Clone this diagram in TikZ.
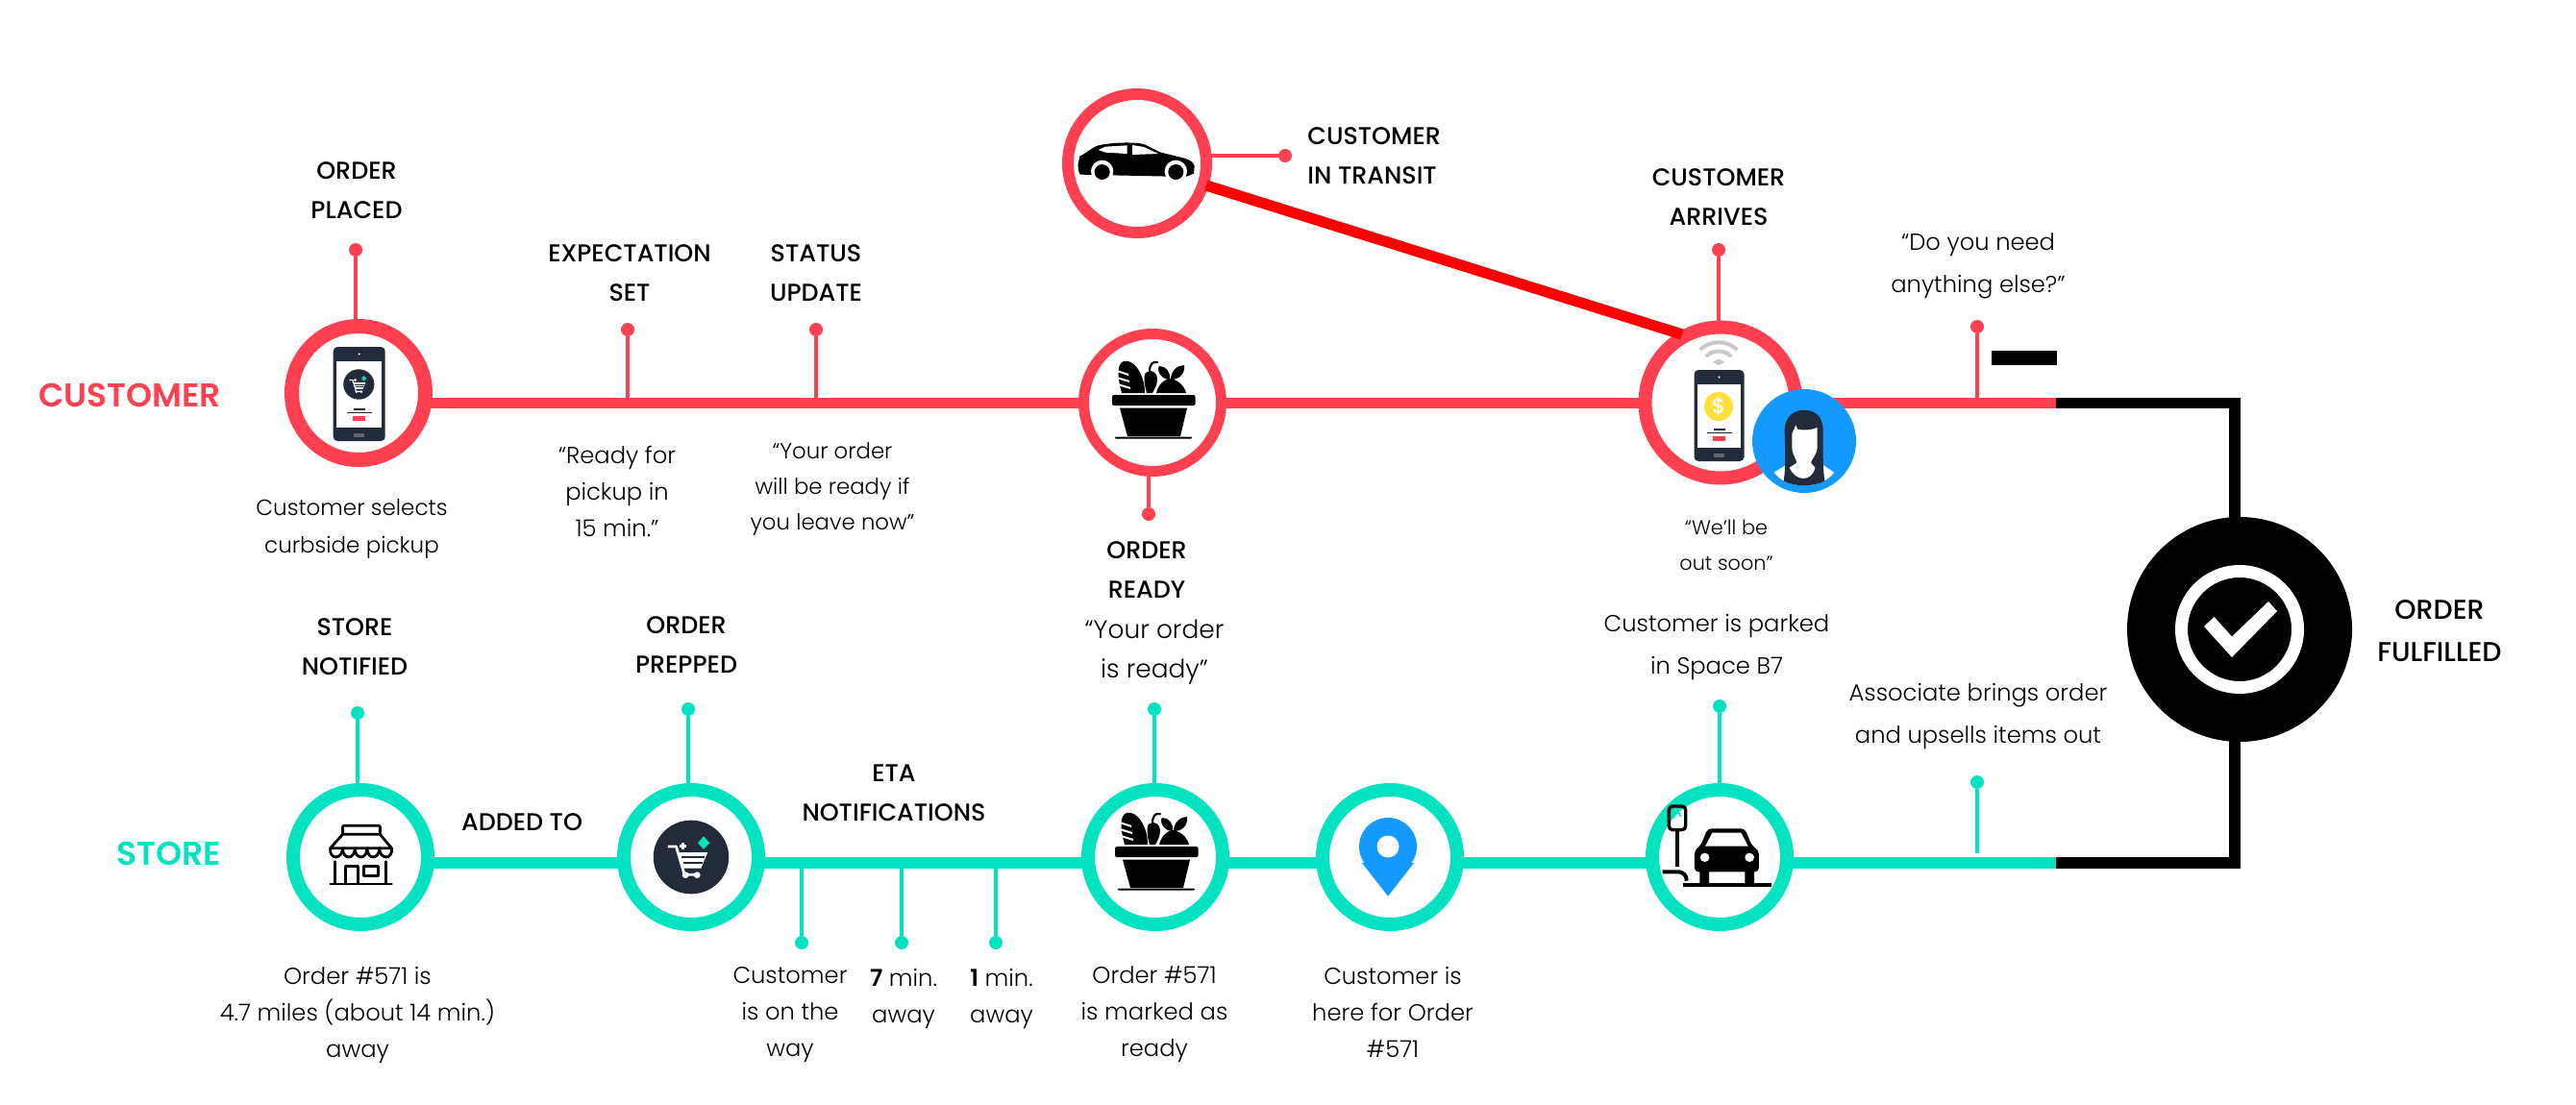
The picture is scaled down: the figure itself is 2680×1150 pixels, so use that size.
\documentclass[tikz,border=0pt]{standalone}
\usepackage{fontspec}
\setmainfont{Poppins}
\newfontfamily\bodyf{Poppins Light}
\newfontfamily\capsf{Poppins Medium}
\newfontfamily\boldf{Poppins SemiBold}
\usetikzlibrary{backgrounds}
\definecolor{cred}{HTML}{FF4050}
\definecolor{cteal}{HTML}{03E3C2}
\definecolor{cdark}{HTML}{232B3A}
\definecolor{cblue}{HTML}{1499FF}
\definecolor{cyel}{HTML}{FFE03A}
\definecolor{cgray}{HTML}{C8C8C8}
\tikzset{
 ringnode/.style n args={3}{circle,draw=#1,fill=white,line width=#3,minimum size=#2,inner sep=0pt},
 bodytext/.style={align=center,inner sep=0pt,font=\bodyf\fontsize{12.1}{19}\selectfont,text=black},
 widetext/.style={align=center,inner sep=0pt,font=\bodyf\fontsize{12.1}{22}\selectfont,text=black},
 capstext/.style={align=center,inner sep=0pt,font=\capsf\fontsize{12.7}{20.5}\selectfont,text=black},
 sidetext/.style={inner sep=0pt,font=\boldf\fontsize{17.2}{20}\selectfont},
 dotnode/.style={circle,fill=#1,minimum size=7pt,inner sep=0pt},
 pinline/.style={draw=#1,line width=2pt},
 mainline/.style={draw=#1,line width=5.6pt},
 zoomA/.style={x=0.16667pt,y=-0.16667pt},
 zoomB/.style={x=0.17218pt,y=-0.16667pt},
 zoomC/.style={x=0.24237pt,y=-0.16667pt}
}
\newcommand{\phonebody}[4]{% x y w h
 \fill[cdark,rounded corners=2.2pt] (#1-#3/2,#2-#4/2) rectangle (#1+#3/2,#2+#4/2);
 \fill[white] (#1-#3/2+3.5,#2-#4/2+15) rectangle (#1+#3/2-3.5,#2+#4/2-14.5);
 \fill[white] (#1,#2-#4/2+7.5) circle [radius=1.2];
 \fill[gray!70!cdark] (#1-5.5,#2+#4/2-8.5) rectangle (#1+5.5,#2+#4/2-4.5);
 \fill[cdark] (#1-6,#2+#4/2-34) rectangle (#1+6,#2+#4/2-32.5);
 \fill[cdark] (#1-13,#2+#4/2-30.5) rectangle (#1+13,#2+#4/2-29);
 \fill[cred] (#1-6.5,#2+#4/2-26) rectangle (#1+6.5,#2+#4/2-21);
}
\newcommand{\basketicon}[2]{%
 \begin{scope}[shift={(#1,#2)},x=0.5pt,y=-0.5pt]
 \fill[black,rounded corners=1pt] (-42,-8) rectangle (44.5,3);
 \fill[black] (-34,5.7) -- (36,5.7) -- (29,35) -- (-26,35) -- cycle;
 \fill[black,rounded corners=0.4pt] (-39,35.5) rectangle (41,37.5);
 \fill[black] (-32,-10) .. controls (-36,-25) and (-38,-40) .. (-30,-43) .. controls (-20,-46) and (-8,-30) .. (-8,-10) -- cycle;
 \draw[white,line width=1pt] (-37,-33) -- (-25,-29) (-37,-26) -- (-24,-22) (-36,-19) -- (-23,-15) ;
 \fill[black] (-6,-10) .. controls (-9,-20) and (-10,-32) .. (-5,-32) .. controls (0,-35) and (5,-30) .. (5,-25) .. controls (5,-18) and (2,-14) .. (0,-10) -- cycle;
 \draw[black,line width=1.1pt,line cap=round] (-3,-32) .. controls (-3,-40) and (0,-43) .. (5,-42);
 \fill[black] (4,-10) .. controls (6,-18) and (11,-24) .. (18,-25) .. controls (26,-24) and (33,-18) .. (35,-10) -- cycle;
 \fill[black] (18,-24) .. controls (8,-24) and (4,-35) .. (7,-38) .. controls (14,-38) and (19,-32) .. (18,-24) -- cycle;
 \fill[black] (19,-24) .. controls (19,-33) and (26,-39) .. (33,-39) .. controls (34,-31) and (29,-24) .. (19,-24) -- cycle;
 \end{scope}}
\newcommand{\carticon}[3]{%
 \begin{scope}[shift={(#1,#2)},x=#3*0.17218pt,y=-#3*0.16667pt]
 \fill[cdark] (0,0) circle [x radius=114,y radius=115];
 \draw[white,line width=#3*1.4pt,line join=round] (-70,-33) -- (-45,-33) -- (-20,55) -- (25,55);
 \fill[white] (-38,-15) -- (50,-15) -- (30,35) -- (-23,35) -- cycle;
 \draw[cdark,line width=#3*1pt] (-28,0) -- (40,0) (-24,18) -- (34,18);
 \fill[white] (-17,56) circle [radius=10] (18,56) circle [radius=10];
 \fill[white] (-25,-33) -- (-21,-38) -- (-25,-43) -- (-29,-38) -- cycle;
 \draw[white,line width=#3*1.2pt] (-35,-35) -- (-15,-35) (-25,-45) -- (-25,-25);
 \fill[cteal] (20,-44) -- (38,-65) -- (56,-44) -- (38,-25) -- cycle;
 \end{scope}}
\begin{document}
\begin{tikzpicture}[x=0.5pt,y=-0.5pt]
\useasboundingbox (0,0) rectangle (2680,1150);
\coordinate (custStart) at (373,419.5);
\coordinate (custEnd) at (2139,419.5);
\coordinate (custCorner) at (2325,419.5);
\coordinate (storeStart) at (375,898);
\coordinate (storeEnd) at (2139,898);
\coordinate (storeCorner) at (2325,898);
\coordinate (redA) at (1255,193);
\coordinate (redB) at (1750,348);
\node[ringnode={cred}{69.5pt}{7.5pt}] (cPlaced) at (373,409) {};
\node[ringnode={cred}{71.5pt}{5.5pt}] (cReady) at (1199,419) {};
\node[ringnode={cred}{72pt}{6pt}] (cCar) at (1183,170) {};
\node[ringnode={cred}{78.5pt}{7pt}] (cArrive) at (1790,419) {};
\node[ringnode={cteal}{70pt}{7pt}] (sNotified) at (375,892) {};
\node[ringnode={cteal}{70pt}{7pt}] (sPrepped) at (719,892) {};
\node[ringnode={cteal}{70pt}{7pt}] (sReady) at (1202,892) {};
\node[ringnode={cteal}{70pt}{7pt}] (sPin) at (1446,892) {};
\node[ringnode={cteal}{70pt}{7pt}] (sPark) at (1789,892) {};
\node[circle,fill=black,minimum size=117pt,inner sep=0pt] (done) at (2330,655) {};
\node[circle,fill=cblue,minimum size=54pt,inner sep=0pt] (avatar) at (1877,459) {};
\node[dotnode=cred] (dPlaced) at (370,260) {};
\node[dotnode=cred] (dExpect) at (653,343) {};
\node[dotnode=cred] (dStatus) at (849,343) {};
\node[dotnode=cred] (dOrderReady) at (1195,535) {};
\node[dotnode=cred] (dTransit) at (1337,162) {};
\node[dotnode=cred] (dArrive) at (1788,260) {};
\node[dotnode=cred] (dElse) at (2057,340) {};
\node[dotnode=cteal] (dNotified) at (372,742) {};
\node[dotnode=cteal] (dPrepped) at (716,738) {};
\node[dotnode=cteal] (dStoreReady) at (1201,738) {};
\node[dotnode=cteal] (dParked) at (1789,735) {};
\node[dotnode=cteal] (dUpsell) at (2057,814) {};
\node[dotnode=cteal] (dEtaA) at (834,981) {};
\node[dotnode=cteal] (dEtaB) at (938,981) {};
\node[dotnode=cteal] (dEtaC) at (1036,981) {};
\coordinate (upsellEnd) at (2057,888);
\begin{pgfonlayer}{background}
 \fill[white] (0,0) rectangle (2680,1150);
 \draw[mainline=cred] (custStart) -- (custEnd);
 \draw[mainline=cteal] (storeStart) -- (storeEnd);
 \draw[draw=black,line width=5.6pt] (custEnd) -- (custCorner) -- (custCorner |- done);
 \draw[draw=black,line width=5.6pt] (storeEnd) -- (storeCorner) -- (storeCorner |- done);
 \draw[pinline=cred] (dPlaced) -- (dPlaced |- cPlaced);
 \draw[pinline=cred] (dExpect) -- (dExpect |- custStart);
 \draw[pinline=cred] (dStatus) -- (dStatus |- custStart);
 \draw[pinline=cred] (dOrderReady) -- (dOrderReady |- cReady);
 \draw[pinline=cred] (dTransit) -- (cCar.center |- dTransit);
 \draw[pinline=cred] (dArrive) -- (dArrive |- cArrive);
 \draw[pinline=cred] (dElse) -- (dElse |- custStart);
 \draw[pinline=cteal] (dNotified) -- (dNotified |- sNotified);
 \draw[pinline=cteal] (dPrepped) -- (dPrepped |- sPrepped);
 \draw[pinline=cteal] (dStoreReady) -- (dStoreReady |- sReady);
 \draw[pinline=cteal] (dParked) -- (dParked |- sPark);
 \draw[pinline=cteal] (dUpsell) -- (upsellEnd);
 \draw[pinline=cteal] (dEtaA) -- (dEtaA |- storeStart);
 \draw[pinline=cteal] (dEtaB) -- (dEtaB |- storeStart);
 \draw[pinline=cteal] (dEtaC) -- (dEtaC |- storeStart);
\end{pgfonlayer}
\draw[draw=red,line width=5.6pt] (redA) -- (redB);
\fill[black] (2072,365) rectangle (2140,380);
\draw[white,line width=6.5pt] (done.center) circle [radius=60.5];
\fill[white] (2293,652) -- (2322,684) -- (2369,636) -- (2360,626) -- (2322,662.5) -- (2303.5,642) -- cycle;
\phonebody{373.7}{410}{54}{98}
\carticon{373.3}{400}{0.41}
\phonebody{1788.5}{432.5}{52}{95}
\fill[cyel] (1788,423) circle [radius=15];
\node[inner sep=0pt,text=white,font=\capsf\fontsize{11}{11}\selectfont] (dollar) at (1788,423) {\$};
\draw[cgray,line width=2pt,line cap=round] (1770,363) .. controls (1780,354) and (1796,354) .. (1806,363);
\draw[cgray,line width=2pt,line cap=round] (1776,370) .. controls (1783,364) and (1793,364) .. (1800,370);
\fill[cgray] (1782,377) .. controls (1785,373) and (1791,373) .. (1794,377) -- (1788,380) -- cycle;
\basketicon{1199}{419}
\basketicon{1202}{889}
\begin{scope}[shift={(1050,60)},zoomA]
 \fill[black] (215,330) -- (220,308) .. controls (240,298) and (260,280) .. (275,275) .. controls (310,265) and (390,262) .. (420,270) -- (470,295) -- (550,315) .. controls (565,320) and (575,328) .. (578,338) -- (576,362) -- (550,372) -- (222,365) .. controls (216,358) and (214,345) .. (215,330) -- cycle;
 \fill[white] (290,355) circle [radius=35] (520,355) circle [radius=35];
 \fill[black] (290,357) circle [radius=24] (520,357) circle [radius=24];
 \fill[white] (250,385) rectangle (560,400);
 \fill[white] (278,288) -- (300,278) -- (368,274) -- (368,300) -- (300,296) -- cycle;
 \fill[white] (384,273) -- (420,279) -- (465,300) -- (384,303) -- cycle;
\end{scope}
\begin{scope}[shift={(1680,310)},zoomA]
 \fill[white] (497,545) -- (545,515) -- (640,515) -- (685,545) .. controls (660,575) and (630,585) .. (590,585) .. controls (550,585) and (520,575) .. (497,545) -- cycle;
 \fill[cdark] (527,572) .. controls (535,520) and (530,450) .. (530,410) .. controls (532,370) and (560,350) .. (590,350) .. controls (625,350) and (648,370) .. (650,410) .. controls (650,460) and (648,520) .. (655,572) .. controls (620,590) and (560,590) .. (527,572) -- cycle;
 \fill[white] (553,425) -- (565,397) -- (570,410) .. controls (590,415) and (615,412) .. (632,405) -- (632,465) .. controls (632,490) and (612,505) .. (612,515) -- (625,530) .. controls (615,575) and (565,575) .. (545,530) -- (568,515) .. controls (568,505) and (553,490) .. (553,465) -- cycle;
\end{scope}
\begin{scope}[shift={(280,800)},zoomB,line width=1.4pt,draw=black,line join=round,line cap=round]
 \draw[rounded corners=0.6pt] (222,178) rectangle (335,205);
 \draw (222,205) -- (185,248) (335,205) -- (370,248) (185,248) -- (370,248);
 \draw (185,248) .. controls (180,285) and (222,285) .. (222,248) .. controls (222,285) and (259,285) .. (259,248) .. controls (259,285) and (296,285) .. (296,248) .. controls (296,285) and (333,285) .. (333,248) .. controls (333,285) and (375,285) .. (370,248);
 \draw (200,290) -- (200,360) (353,290) -- (353,360);
 \draw (232,360) -- (232,305) -- (268,305) -- (268,360);
 \draw (287,305) rectangle (330,335);
 \draw (185,360) -- (370,360);
\end{scope}
\carticon{719}{892}{1}
\fill[cblue] (1444,881) circle [radius=30];
\fill[cblue] (1444,932.7) -- (1417,898) -- (1471,898) -- cycle;
\fill[white] (1444,881) circle [radius=11.5];
\begin{scope}[shift={(1110,800)},zoomC]
 \draw[black,line width=1.7pt,rounded corners=2pt] (1292,117) rectangle (1328,191);
 \draw[cteal,line width=0.8pt] (1303,155) .. controls (1303,132) and (1317,132) .. (1317,150);
 \draw[black,line width=1.7pt] (1310,193) -- (1310,305);
 \draw[black,line width=2pt] (1278,322) -- (1310,322) .. controls (1325,322) and (1330,335) .. (1330,350);
 \draw[black,line width=2.2pt] (1323,363) -- (1512,363);
 \fill[black,rounded corners=2pt] (1375,187) -- (1455,187) -- (1470,240) -- (1485,255) -- (1485,322) -- (1347,322) -- (1347,255) -- (1360,240) -- cycle;
 \fill[white] (1385,200) -- (1447,200) -- (1462,242) -- (1370,242) -- cycle;
 \fill[white] (1369,277) circle [x radius=10,y radius=14] (1465,277) circle [x radius=10,y radius=14];
 \fill[black] (1358,320) rectangle (1378,360) (1455,320) rectangle (1475,360);
\end{scope}
\node[sidetext,text=cred] (lCust) at (135,411) {CUSTOMER};
\node[sidetext,text=cteal] (lStore) at (176,888) {STORE};
\node[capstext] (t1) at (371,198) {ORDER\\PLACED};
\node[capstext] (t2) at (655,284) {EXPECTATION\\SET};
\node[capstext] (t3) at (849,284) {STATUS\\UPDATE};
\node[capstext,align=left,anchor=west] (t4) at (1360,162) {CUSTOMER\\IN TRANSIT};
\node[capstext] (t5) at (1788,205) {CUSTOMER\\ARRIVES};
\node[capstext] (t6) at (1193,593) {ORDER\\READY};
\node[capstext] (t7) at (369,673) {STORE\\NOTIFIED};
\node[capstext] (t8) at (714,671) {ORDER\\PREPPED};
\node[capstext] (t9) at (543,856) {ADDED TO};
\node[capstext] (t10) at (930,825) {ETA\\NOTIFICATIONS};
\node[capstext,font=\capsf\fontsize{14.2}{22}\selectfont] (t11) at (2538,657) {ORDER\\FULFILLED};
\node[bodytext,font=\bodyf\fontsize{11.5}{19.5}\selectfont] (b1) at (366,550) {Customer selects\\curbside pickup};
\node[bodytext] (b2) at (642,511) {“Ready for\\pickup in\\15 min.”};
\node[bodytext,font=\bodyf\fontsize{11.4}{18.5}\selectfont] (b3) at (866,509) {“Your order\\will be ready if\\you leave now”};
\node[widetext] (b4) at (2058,277) {“Do you need\\anything else?”};
\node[bodytext,font=\bodyf\fontsize{10.4}{18.5}\selectfont] (b5) at (1796,567) {“We’ll be\\out soon”};
\node[bodytext,font=\bodyf\fontsize{13.2}{20.5}\selectfont] (b6) at (1201,679) {“Your order\\is ready”};
\node[widetext] (b7) at (1786,674) {Customer is parked\\in Space B7};
\node[widetext] (b8) at (2058,746) {Associate brings order\\and upsells items out};
\node[bodytext] (b9) at (372,1056) {Order \#571 is\\4.7 miles (about 14 min.)\\away};
\node[bodytext] (b10) at (822,1056) {Customer\\is on the\\way};
\node[bodytext] (b11) at (940,1039) {{\boldf 7} min.\\away};
\node[bodytext] (b12) at (1042,1039) {{\boldf 1} min.\\away};
\node[bodytext] (b13) at (1201,1056) {Order \#571\\is marked as\\ready};
\node[bodytext] (b14) at (1449,1053) {Customer is\\here for Order\\\#571};
\end{tikzpicture}
\end{document}
